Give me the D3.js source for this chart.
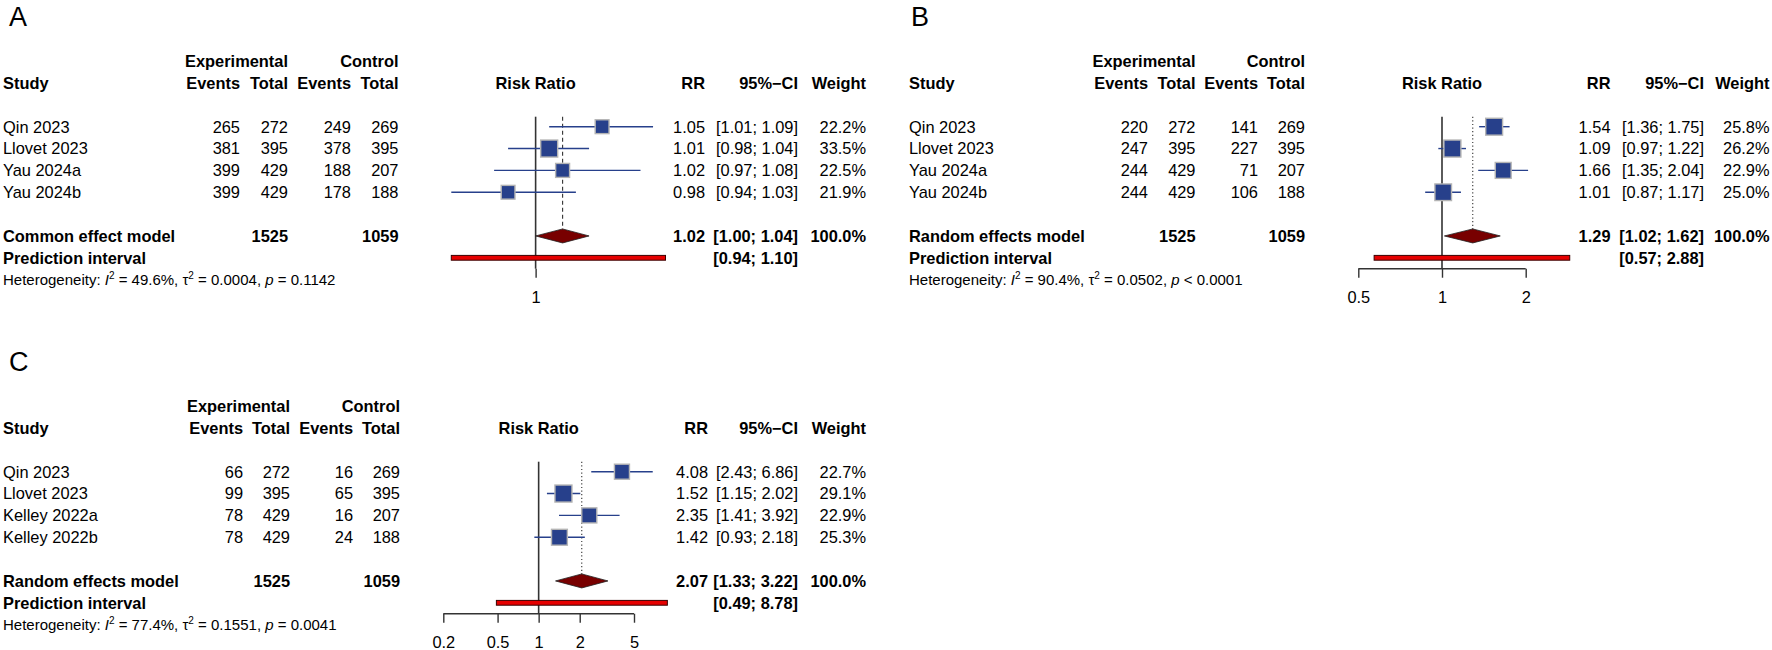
<!DOCTYPE html>
<html><head><meta charset="utf-8">
<script src="https://cdn.jsdelivr.net/npm/d3@7"></script>
<style>
html,body{margin:0;padding:0;background:#fff;}
svg text{font-family:"Liberation Sans",Arial,Helvetica,sans-serif;fill:#000;}
</style></head><body>
<svg id="chart" width="1772" height="650"></svg>
<script>
// ---------------- DATA ----------------
// Panel A (common effect model)
const studiesA = ["Qin 2023", "Llovet 2023", "Yau 2024a", "Yau 2024b"];
const expEventsA = [265, 381, 399, 399];
const expTotalA = [272, 395, 429, 429];
const ctrlEventsA = [249, 378, 188, 178];
const ctrlTotalA = [269, 395, 207, 188];
const rrA = [1.05, 1.01, 1.02, 0.98];
const lowerA = [1.01, 0.98, 0.97, 0.94];
const upperA = [1.09, 1.04, 1.08, 1.03];
const weightA = [22.2, 33.5, 22.5, 21.9];
const pooledA = [1.02, 1.00, 1.04];      // RR, lower, upper
const predA = [0.94, 1.10];
const totalsA = [1525, 1059];
const hetA = ["49.6%", "0.0004", "= 0.1142"];
const ticksA = [1];

// Panel B (random effects model)
const studiesB = ["Qin 2023", "Llovet 2023", "Yau 2024a", "Yau 2024b"];
const expEventsB = [220, 247, 244, 244];
const expTotalB = [272, 395, 429, 429];
const ctrlEventsB = [141, 227, 71, 106];
const ctrlTotalB = [269, 395, 207, 188];
const rrB = [1.54, 1.09, 1.66, 1.01];
const lowerB = [1.36, 0.97, 1.35, 0.87];
const upperB = [1.75, 1.22, 2.04, 1.17];
const weightB = [25.8, 26.2, 22.9, 25.0];
const pooledB = [1.29, 1.02, 1.62];
const predB = [0.57, 2.88];
const totalsB = [1525, 1059];
const hetB = ["90.4%", "0.0502", "< 0.0001"];
const ticksB = [0.5, 1, 2];

// Panel C (random effects model)
const studiesC = ["Qin 2023", "Llovet 2023", "Kelley 2022a", "Kelley 2022b"];
const expEventsC = [66, 99, 78, 78];
const expTotalC = [272, 395, 429, 429];
const ctrlEventsC = [16, 65, 16, 24];
const ctrlTotalC = [269, 395, 207, 188];
const rrC = [4.08, 1.52, 2.35, 1.42];
const lowerC = [2.43, 1.15, 1.41, 0.93];
const upperC = [6.86, 2.02, 3.92, 2.18];
const weightC = [22.7, 29.1, 22.9, 25.3];
const pooledC = [2.07, 1.33, 3.22];
const predC = [0.49, 8.78];
const totalsC = [1525, 1059];
const hetC = ["77.4%", "0.1551", "= 0.0041"];
const ticksC = [0.2, 0.5, 1, 2, 5];

const panelLetters = ["A", "B", "C"];
const modelLabels = ["Common effect model", "Random effects model", "Random effects model"];

// ---------------- LAYOUT ----------------
const svg = d3.select("#chart");
const FS = 16.4, FSH = 15;
const ROW = 21.85;
const BLUE = "#27408b", SQ_BORDER = "#b4b4b4";

const panels = [
  {letter: panelLetters[0], model: modelLabels[0], x0: 0, y0: 0, lx: 9, dom: [0.94, 1.10], rng: [451.3, 665.5], poolDash: "4,3",
   col: {study: 3, expEv: 240, expTot: 288, ctrlEv: 351, ctrlTot: 398.5, rr: 705, ci: 798, w: 866},
   studies: studiesA, ee: expEventsA, et: expTotalA, ce: ctrlEventsA, ct: ctrlTotalA,
   rr: rrA, lo: lowerA, hi: upperA, w: weightA, pooled: pooledA, pred: predA, totals: totalsA, het: hetA, ticks: ticksA},
  {letter: panelLetters[1], model: modelLabels[1], x0: 905.5, y0: 0, lx: 5.5, dom: [0.5, 2], rng: [452.8, 620.2], poolDash: "1.2,2.4",
   col: {study: 3.5, expEv: 242.5, expTot: 290, ctrlEv: 352.5, ctrlTot: 399.5, rr: 705, ci: 798.5, w: 864},
   studies: studiesB, ee: expEventsB, et: expTotalB, ce: ctrlEventsB, ct: ctrlTotalB,
   rr: rrB, lo: lowerB, hi: upperB, w: weightB, pooled: pooledB, pred: predB, totals: totalsB, het: hetB, ticks: ticksB},
  {letter: panelLetters[2], model: modelLabels[2], x0: 0, y0: 345, lx: 9, dom: [0.2, 5], rng: [443.3, 634], poolDash: "1.2,2.4",
   col: {study: 3, expEv: 243, expTot: 290, ctrlEv: 353, ctrlTot: 400, rr: 708, ci: 798, w: 866},
   studies: studiesC, ee: expEventsC, et: expTotalC, ce: ctrlEventsC, ct: ctrlTotalC,
   rr: rrC, lo: lowerC, hi: upperC, w: weightC, pooled: pooledC, pred: predC, totals: totalsC, het: hetC, ticks: ticksC}
];

const fmt2 = d3.format(".2f");
const fmtW = d => d3.format(".1f")(d) + "%";

function drawPanel(p) {
  const COL = p.col;
  const g = svg.append("g").attr("transform", `translate(${p.x0},${p.y0})`);
  const rowY = i => 126.7 + i * ROW;
  const base = i => rowY(i) + 5.9;
  const x = d3.scaleLog().domain(p.dom).range(p.rng);
  const side = d3.scaleSqrt().domain([0, d3.max(p.w)]).range([0, 17]);

  // Panel letter
  g.append("text").attr("x", p.lx).attr("y", 25.5).attr("font-size", 27).text(p.letter);

  const txt = (xx, i, s, anchor, bold) => g.append("text")
    .attr("x", xx).attr("y", base(i)).attr("font-size", FS)
    .attr("text-anchor", anchor || "start").attr("font-weight", bold ? "bold" : "normal").text(s);

  // Headers
  txt(COL.expTot, -3, "Experimental", "end", true);
  txt(COL.ctrlTot, -3, "Control", "end", true);
  txt(COL.study, -2, "Study", "start", true);
  txt(COL.expEv, -2, "Events", "end", true);
  txt(COL.expTot, -2, "Total", "end", true);
  txt(COL.ctrlEv, -2, "Events", "end", true);
  txt(COL.ctrlTot, -2, "Total", "end", true);
  txt(x(1), -2, "Risk Ratio", "middle", true);
  txt(COL.rr, -2, "RR", "end", true);
  txt(COL.ci, -2, "95%\u2212CI", "end", true);
  txt(COL.w, -2, "Weight", "end", true);

  // Study rows
  p.studies.forEach((s, i) => {
    txt(COL.study, i, s);
    txt(COL.expEv, i, p.ee[i], "end");
    txt(COL.expTot, i, p.et[i], "end");
    txt(COL.ctrlEv, i, p.ce[i], "end");
    txt(COL.ctrlTot, i, p.ct[i], "end");
    txt(COL.rr, i, fmt2(p.rr[i]), "end");
    txt(COL.ci, i, `[${fmt2(p.lo[i])}; ${fmt2(p.hi[i])}]`, "end");
    txt(COL.w, i, fmtW(p.w[i]), "end");
  });

  // Summary rows
  txt(COL.study, 5, p.model, "start", true);
  txt(COL.expTot, 5, p.totals[0], "end", true);
  txt(COL.ctrlTot, 5, p.totals[1], "end", true);
  txt(COL.rr, 5, fmt2(p.pooled[0]), "end", true);
  txt(COL.ci, 5, `[${fmt2(p.pooled[1])}; ${fmt2(p.pooled[2])}]`, "end", true);
  txt(COL.w, 5, fmtW(100), "end", true);
  txt(COL.study, 6, "Prediction interval", "start", true);
  txt(COL.ci, 6, `[${fmt2(p.pred[0])}; ${fmt2(p.pred[1])}]`, "end", true);

  // Heterogeneity line
  const ht = g.append("text").attr("x", COL.study).attr("y", rowY(7) + 5.4).attr("font-size", FSH);
  ht.append("tspan").text("Heterogeneity: ");
  ht.append("tspan").attr("font-style", "italic").text("I");
  ht.append("tspan").attr("font-size", 10).attr("dy", -6).text("2");
  ht.append("tspan").attr("dy", 6).text(` = ${p.het[0]}, \u03C4`);
  ht.append("tspan").attr("font-size", 10).attr("dy", -6).text("2");
  ht.append("tspan").attr("dy", 6).text(` = ${p.het[1]}, `);
  ht.append("tspan").attr("font-style", "italic").text("p");
  ht.append("tspan").text(` ${p.het[2]}`);

  // Plot
  const top = rowY(0) - 10;
  const axisY = rowY(6.5);

  // Reference line at 1
  g.append("line").attr("x1", x(1)).attr("x2", x(1)).attr("y1", top).attr("y2", axisY)
    .attr("stroke", "#333").attr("stroke-width", 1.6);
  // Pooled estimate line
  g.append("line").attr("x1", x(p.pooled[0])).attr("x2", x(p.pooled[0]))
    .attr("y1", top).attr("y2", rowY(5) - 7)
    .attr("stroke", "#333").attr("stroke-width", 1.1).attr("stroke-dasharray", p.poolDash);

  // CI lines and squares
  p.studies.forEach((s, i) => {
    g.append("line").attr("x1", x(p.lo[i])).attr("x2", x(p.hi[i]))
      .attr("y1", rowY(i)).attr("y2", rowY(i)).attr("stroke", BLUE).attr("stroke-width", 1.4);
    const a = side(p.w[i]);
    g.append("rect").attr("x", x(p.rr[i]) - a / 2).attr("y", rowY(i) - a / 2)
      .attr("width", a).attr("height", a).attr("fill", BLUE)
      .attr("stroke", SQ_BORDER).attr("stroke-width", 1.4);
  });

  // Diamond
  const yd = rowY(5);
  g.append("polygon").attr("points", [
      [x(p.pooled[1]), yd], [x(p.pooled[0]), yd - 7], [x(p.pooled[2]), yd], [x(p.pooled[0]), yd + 7]
    ].map(d => d.join(",")).join(" "))
    .attr("fill", "#780000").attr("stroke", "#222").attr("stroke-width", 0.8);

  // Prediction interval bar
  const yp = rowY(6);
  g.append("rect").attr("x", x(p.pred[0])).attr("y", yp - 2.4)
    .attr("width", x(p.pred[1]) - x(p.pred[0])).attr("height", 4.8)
    .attr("fill", "#e60000").attr("stroke", "#3a0000").attr("stroke-width", 1);

  // Axis
  const ax = g.append("g").attr("transform", `translate(0,${axisY})`)
    .call(d3.axisBottom(x).tickValues(p.ticks).tickFormat(d => String(d)).tickSize(9).tickPadding(14));
  ax.select(".domain").remove();
  ax.selectAll(".tick line").attr("stroke", "#333").attr("stroke-width", 1.4);
  ax.selectAll(".tick text").attr("font-size", FS).attr("font-family", null).attr("fill", "#000");
  g.append("line").attr("x1", x(d3.min(p.ticks))).attr("x2", x(d3.max(p.ticks)))
    .attr("y1", axisY).attr("y2", axisY).attr("stroke", "#333").attr("stroke-width", 1.4);
}

panels.forEach(drawPanel);
</script>
</body></html>
